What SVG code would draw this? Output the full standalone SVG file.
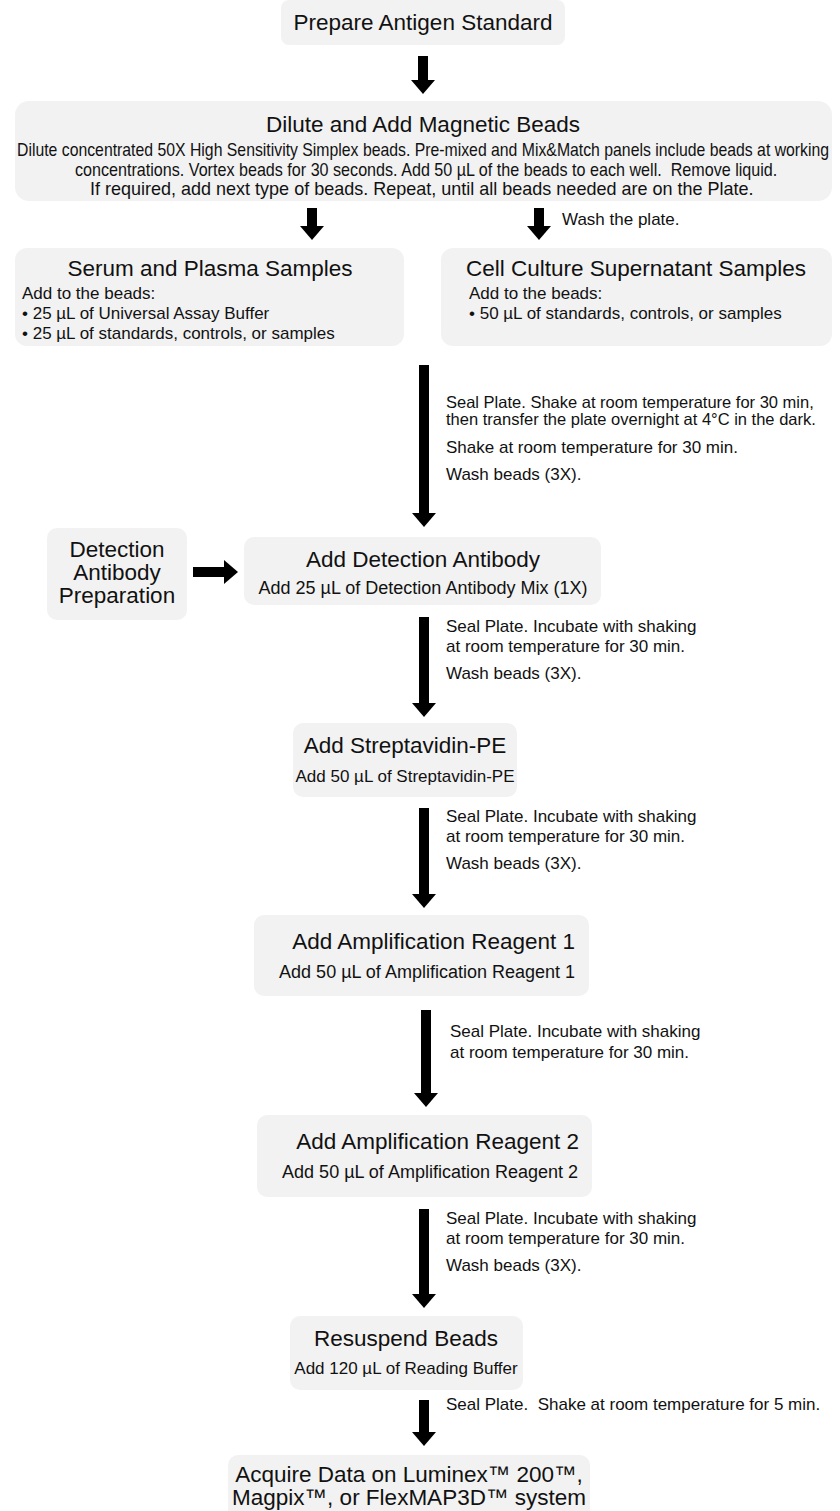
<svg xmlns="http://www.w3.org/2000/svg" width="840" height="1511" viewBox="0 0 840 1511">
<defs>
<marker id="ah" viewBox="0 0 14 24" refX="0" refY="12" markerWidth="14" markerHeight="24" orient="auto" markerUnits="userSpaceOnUse"><path d="M0,0 L14,12 L0,24 Z" fill="#000"/></marker>
<style>
.box{fill:#f2f2f2}
text{font-family:"Liberation Sans",Arial,sans-serif;fill:#111}
.t{font-size:22.5px;text-anchor:middle}
.s{font-size:18px;text-anchor:middle}
.s2{font-size:17px;text-anchor:middle}
.l{font-size:17px}
.l2{font-size:16.5px}
.n{font-size:18px}
.c line{stroke:#000;stroke-width:10;marker-end:url(#ah)}
</style>
</defs>
<rect width="840" height="1511" fill="#fff"/>
<g id="prepare">
<rect class="box" x="281" y="0" width="284" height="45" rx="8"/>
<text class="t" x="423" y="30">Prepare Antigen Standard</text>
</g>
<g id="dilute">
<rect class="box" x="15" y="101" width="817" height="100" rx="14"/>
<text class="t" x="423" y="132">Dilute and Add Magnetic Beads</text>
<g transform="scale(0.79,1)">
<text class="n" x="21.5" y="156" textLength="1028" lengthAdjust="spacingAndGlyphs">Dilute concentrated 50X High Sensitivity Simplex beads. Pre-mixed and Mix&amp;Match panels include beads at working</text>
<text class="n" x="94.9" y="176" textLength="889" lengthAdjust="spacingAndGlyphs" xml:space="preserve">concentrations. Vortex beads for 30 seconds. Add 50 µL of the beads to each well.  Remove liquid.</text>
<text class="n" x="113.9" y="195" textLength="840" lengthAdjust="spacingAndGlyphs">If required, add next type of beads. Repeat, until all beads needed are on the Plate.</text>
</g>
</g>
<g id="serum">
<rect class="box" x="15" y="248" width="389" height="98" rx="12"/>
<text class="t" x="210" y="276">Serum and Plasma Samples</text>
<text class="l" x="22" y="299">Add to the beads:</text>
<text class="l" x="22" y="319">• 25 µL of Universal Assay Buffer</text>
<text class="l" x="22" y="339">• 25 µL of standards, controls, or samples</text>
</g>
<g id="cell">
<rect class="box" x="441" y="248" width="391" height="98" rx="12"/>
<text class="t" x="636" y="276">Cell Culture Supernatant Samples</text>
<text class="l" x="469" y="299">Add to the beads:</text>
<text class="l" x="469" y="319">• 50 µL of standards, controls, or samples</text>
</g>
<g id="detprep">
<rect class="box" x="47" y="528" width="140" height="92" rx="10"/>
<text class="t" x="117" y="557">Detection</text>
<text class="t" x="117" y="580">Antibody</text>
<text class="t" x="117" y="603">Preparation</text>
</g>
<g id="detab">
<rect class="box" x="244" y="537" width="357" height="68" rx="10"/>
<text class="t" x="423" y="567">Add Detection Antibody</text>
<text class="s" x="423" y="594">Add 25 µL of Detection Antibody Mix (1X)</text>
</g>
<g id="strep">
<rect class="box" x="293" y="723" width="224" height="74" rx="10"/>
<text class="t" x="405" y="753">Add Streptavidin-PE</text>
<text class="s2" x="405" y="782">Add 50 µL of Streptavidin-PE</text>
</g>
<g id="amp1">
<rect class="box" x="254" y="915" width="335" height="81" rx="10"/>
<text class="t" x="575" y="949" style="text-anchor:end">Add Amplification Reagent 1</text>
<text class="s" x="575" y="978" style="text-anchor:end">Add 50 µL of Amplification Reagent 1</text>
</g>
<g id="amp2">
<rect class="box" x="257" y="1115" width="335" height="82" rx="10"/>
<text class="t" x="579" y="1149" style="text-anchor:end">Add Amplification Reagent 2</text>
<text class="s" x="578" y="1178" style="text-anchor:end">Add 50 µL of Amplification Reagent 2</text>
</g>
<g id="resuspend">
<rect class="box" x="290" y="1316" width="233" height="74" rx="10"/>
<text class="t" x="406" y="1346">Resuspend Beads</text>
<text class="s2" x="406" y="1374">Add 120 µL of Reading Buffer</text>
</g>
<g id="acquire">
<rect class="box" x="228" y="1455" width="362" height="70" rx="10"/>
<text class="t" x="409" y="1482">Acquire Data on Luminex™ 200™,</text>
<text class="t" x="409" y="1505">Magpix™, or FlexMAP3D™ system</text>
</g>
<g id="connectors" class="c">
<line x1="423" y1="56" x2="423" y2="80"/>
<line x1="312" y1="208" x2="312" y2="226"/>
<line x1="539" y1="208" x2="539" y2="226"/>
<line x1="424" y1="365" x2="424" y2="513"/>
<line x1="193" y1="572" x2="224" y2="572"/>
<line x1="424" y1="617" x2="424" y2="703"/>
<line x1="424" y1="808" x2="424" y2="894"/>
<line x1="426" y1="1010" x2="426" y2="1093"/>
<line x1="424" y1="1209" x2="424" y2="1294"/>
<line x1="424" y1="1400" x2="424" y2="1432"/>
</g>
<g id="labels">
<text class="l" x="562" y="225">Wash the plate.</text>
<text class="l2" x="446" y="408">Seal Plate. Shake at room temperature for 30 min,</text>
<text class="l2" x="446" y="425">then transfer the plate overnight at 4°C in the dark.</text>
<text class="l" x="446" y="453">Shake at room temperature for 30 min.</text>
<text class="l" x="446" y="480">Wash beads (3X).</text>
<text class="l" x="446" y="632">Seal Plate. Incubate with shaking</text>
<text class="l" x="446" y="652">at room temperature for 30 min.</text>
<text class="l" x="446" y="679">Wash beads (3X).</text>
<text class="l" x="446" y="822">Seal Plate. Incubate with shaking</text>
<text class="l" x="446" y="842">at room temperature for 30 min.</text>
<text class="l" x="446" y="869">Wash beads (3X).</text>
<text class="l" x="450" y="1037">Seal Plate. Incubate with shaking</text>
<text class="l" x="450" y="1058">at room temperature for 30 min.</text>
<text class="l" x="446" y="1224">Seal Plate. Incubate with shaking</text>
<text class="l" x="446" y="1244">at room temperature for 30 min.</text>
<text class="l" x="446" y="1271">Wash beads (3X).</text>
<text class="l" x="446" y="1410" xml:space="preserve">Seal Plate.  Shake at room temperature for 5 min.</text>
</g>
</svg>
